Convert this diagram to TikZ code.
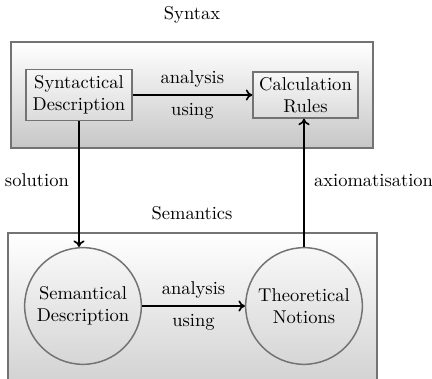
\documentclass[tikz,border=0pt]{standalone}
\usetikzlibrary{arrows.meta}
\begin{document}
\begin{tikzpicture}[x=0.54pt,y=-0.54pt,
  region/.style={draw=black!55,line width=0.8pt,top color=white,bottom color=black!22},
  rectbox/.style={draw=black!55,line width=0.8pt,top color=black!3,bottom color=black!14,align=center,inner sep=2pt},
  circbox/.style={circle,draw=black!55,line width=0.8pt,top color=black!3,bottom color=black!16,align=center,minimum size=63pt,inner sep=0pt},
  conn/.style={-{To[length=3.5pt,width=6pt]},line width=0.9pt},
  lbl/.style={inner sep=1pt}]
\useasboundingbox (0,0) rectangle (432,379);
\clip (0,0) rectangle (432,379);
\draw[region] (11,42) rectangle (373,148);
\draw[region] (8,233) rectangle (377,420);
\node[lbl] (syntax) at (192,15) {Syntax};
\node[lbl] (semantics) at (192,213) {Semantics};
\node[rectbox,minimum width=57pt,minimum height=27.5pt] (syn) at (79,95) {Syntactical\\Description};
\node[rectbox,minimum width=56.7pt,minimum height=24.8pt] (calc) at (305.5,95) {Calculation\\Rules};
\node[circbox] (sem) at (83,306) {Semantical\\Description};
\node[circbox] (theo) at (304,306) {Theoretical\\Notions};
\draw[conn] (syn.east) -- node[lbl,above=2.5pt]{analysis} node[lbl,below=3pt]{using} (syn.east -| calc.west);
\draw[conn] (sem) -- node[lbl,above=2.5pt]{analysis} node[lbl,below=3pt]{using} (theo);
\draw[conn] (syn.south) -- (syn.south |- sem.north) node[pos=0.47,left=4pt,lbl]{solution};
\draw[conn] (theo.north) -- (theo.north |- calc.south) node[pos=0.52,right=4pt,lbl]{axiomatisation};
\end{tikzpicture}
\end{document}
